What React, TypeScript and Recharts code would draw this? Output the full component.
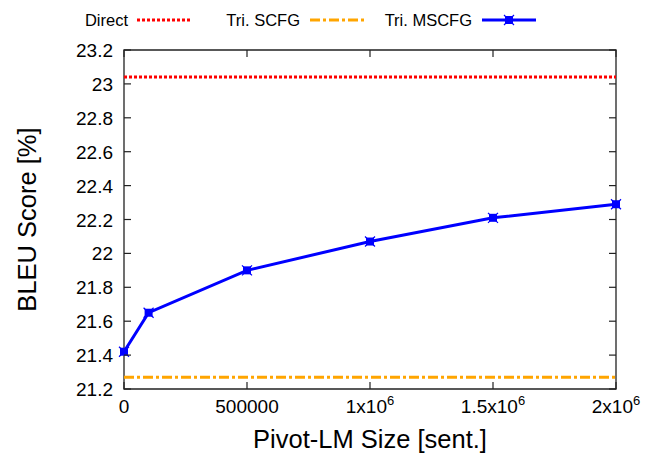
import React from 'react';
import {
  LineChart,
  Line,
  XAxis,
  YAxis,
  ReferenceLine,
  ReferenceArea,
  Label
} from 'recharts';

// Pivot-LM size (sentences) vs BLEU
const LM_SIZES = [0, 100000, 500000, 1000000, 1500000, 2000000];
const MSCFG_BLEU = [21.42, 21.65, 21.9, 22.07, 22.21, 22.29];
const DIRECT_BLEU = 23.04;
const SCFG_BLEU = 21.27;

const X_TICKS = [0, 500000, 1000000, 1500000, 2000000];
const Y_TICKS = [21.2, 21.4, 21.6, 21.8, 22, 22.2, 22.4, 22.6, 22.8, 23, 23.2];
const SERIES_NAMES = ['Direct', 'Tri. SCFG', 'Tri. MSCFG'];

const W = 658;
const H = 454;
const MARGIN = { top: 50, right: 42, left: 0, bottom: 0 };
const Y_AXIS_W = 124;
const X_AXIS_H = 65;
const PLOT_TOP = MARGIN.top;
const PLOT_RIGHT = W - MARGIN.right;
const PLOT_BOTTOM = H - X_AXIS_H;
const FONT = '"Liberation Sans", Arial, Helvetica, sans-serif';

const RED_DASH = '3 2';
const ORANGE_DASH = '10 3 3 3';

const chartData = LM_SIZES.map((size, i) => ({ size, mscfg: MSCFG_BLEU[i] }));

// gnuplot-style ticks: drawn inward and mirrored on the opposite border
const XTick = (props: any) => {
  const { x, y, payload } = props;
  const v = payload.value;
  let label: React.ReactNode = String(v);
  if (v >= 1000000) {
    const m = v / 1000000;
    label = (
      <>
        {m}x10<tspan dy={-8} fontSize={13}>6</tspan>
      </>
    );
  }
  return (
    <g>
      <line x1={x} y1={y} x2={x} y2={y - 7} stroke="#222" strokeWidth={1.2} />
      <line x1={x} y1={PLOT_TOP} x2={x} y2={PLOT_TOP + 7} stroke="#222" strokeWidth={1.2} />
      <text x={x} y={y + 24} textAnchor="middle" fontSize={19} fontFamily={FONT} fill="#000">
        {label}
      </text>
    </g>
  );
};

const YTick = (props: any) => {
  const { x, y, payload } = props;
  const v = payload.value;
  return (
    <g>
      <line x1={x} y1={y} x2={x + 7} y2={y} stroke="#222" strokeWidth={1.2} />
      <line x1={PLOT_RIGHT} y1={y} x2={PLOT_RIGHT - 7} y2={y} stroke="#222" strokeWidth={1.2} />
      <text x={x - 11} y={y + 7} textAnchor="end" fontSize={19} fontFamily={FONT} fill="#000">
        {Number(v.toFixed(1)).toString()}
      </text>
    </g>
  );
};

const BoxMark = (props: any) => {
  const { cx, cy } = props;
  if (cx == null || cy == null) return null;
  return (
    <g>
      <rect x={cx - 4} y={cy - 4} width={8} height={8} fill="#0000ff" />
      <path
        d={`M${cx - 5},${cy - 5}L${cx + 5},${cy + 5}M${cx - 5},${cy + 5}L${cx + 5},${cy - 5}`}
        stroke="#0000ff"
        strokeWidth={1.2}
      />
    </g>
  );
};

const LEGEND_STYLES = [
  { stroke: '#ff0000', dash: RED_DASH, textEnd: 128, lineStart: 137 },
  { stroke: '#ffa500', dash: ORANGE_DASH, textEnd: 300, lineStart: 310 },
  { stroke: '#0000ff', dash: undefined, textEnd: 472, lineStart: 482 }
];

const LegendBar = () => (
  <svg width={W} height={40} style={{ position: 'absolute', left: 0, top: 0 }}>
    {SERIES_NAMES.map((name, i) => {
      const s = LEGEND_STYLES[i];
      return (
        <g key={name}>
          <text x={s.textEnd} y={26} textAnchor="end" fontSize={16.5} fontFamily={FONT} fill="#000">
            {name}
          </text>
          <line
            x1={s.lineStart}
            y1={20}
            x2={s.lineStart + 54}
            y2={20}
            stroke={s.stroke}
            strokeWidth={3}
            strokeDasharray={s.dash}
          />
          {i === 2 && <BoxMark cx={s.lineStart + 27} cy={20} />}
        </g>
      );
    })}
  </svg>
);

export default function App() {
  return (
    <div style={{ position: 'absolute', left: 0, top: 0, width: W, height: H, background: '#fff' }}>
      <LineChart width={W} height={H} data={chartData} margin={MARGIN}>
        <XAxis
          dataKey="size"
          type="number"
          domain={[0, 2000000]}
          ticks={X_TICKS}
          height={X_AXIS_H}
          axisLine={false}
          tickLine={false}
          tickSize={0}
          tickMargin={0}
          tick={<XTick />}
          interval={0}
        >
          <Label
            content={(p: any) => (
              <text
                x={p.viewBox.x + p.viewBox.width / 2}
                y={PLOT_BOTTOM + 59}
                textAnchor="middle"
                fontSize={25.5}
                fontFamily={FONT}
                fill="#000"
              >
                Pivot-LM Size [sent.]
              </text>
            )}
          />
        </XAxis>
        <YAxis
          type="number"
          domain={[21.2, 23.2]}
          ticks={Y_TICKS}
          width={Y_AXIS_W}
          axisLine={false}
          tickLine={false}
          tickSize={0}
          tickMargin={0}
          tick={<YTick />}
          interval={0}
        >
          <Label
            content={() => (
              <text
                x={36}
                y={(PLOT_TOP + PLOT_BOTTOM) / 2}
                textAnchor="middle"
                fontSize={25.5}
                fontFamily={FONT}
                fill="#000"
                transform={`rotate(-90 36 ${(PLOT_TOP + PLOT_BOTTOM) / 2})`}
              >
                BLEU Score [%]
              </text>
            )}
          />
        </YAxis>
        <ReferenceArea
          x1={0}
          x2={2000000}
          y1={21.2}
          y2={23.2}
          fill="none"
          stroke="#222"
          strokeWidth={1.3}
        />
        <ReferenceLine y={DIRECT_BLEU} stroke="#ff0000" strokeWidth={3} strokeDasharray={RED_DASH} />
        <ReferenceLine y={SCFG_BLEU} stroke="#ffa500" strokeWidth={3} strokeDasharray={ORANGE_DASH} />
        <Line
          dataKey="mscfg"
          type="linear"
          stroke="#0000ff"
          strokeWidth={3}
          dot={<BoxMark />}
          activeDot={false}
          isAnimationActive={false}
        />
      </LineChart>
      <LegendBar />
    </div>
  );
}
